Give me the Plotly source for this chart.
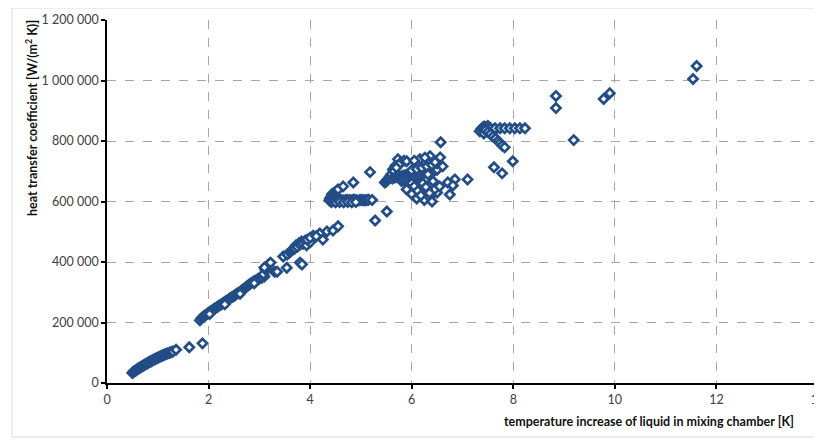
import plotly.graph_objects as go

# temperature increase [K] and heat transfer coefficient [W/(m2 K)]
low_x = [0.50, 0.51, 0.52, 0.54, 0.55, 0.57, 0.58, 0.60, 0.61, 0.63, 0.65, 0.66, 0.68, 0.70, 0.72,
         0.73, 0.75, 0.77, 0.79, 0.80, 0.82, 0.84, 0.86, 0.88, 0.90, 0.92, 0.94, 0.96, 0.98,
         1.00, 1.02, 1.04, 1.06, 1.08, 1.10, 1.12, 1.14, 1.16, 1.18, 1.20, 1.23, 1.25, 1.28,
         1.30, 1.36, 1.62, 1.88]
low_y = [33000, 35000, 37000, 39000, 40000, 42000, 43000, 46000, 47000, 49000, 51000, 52000, 54000, 56000, 58000,
         59000, 61000, 63000, 65000, 66000, 68000, 70000, 71000, 73000, 75000, 77000, 78000, 80000, 82000,
         84000, 85000, 87000, 88000, 90000, 91000, 93000, 94000, 96000, 97000, 98000, 100000, 101000, 103000,
         104000, 110000, 118000, 131000]

mid_x = [1.83, 1.86, 1.88, 1.90, 1.93, 1.95, 1.98, 2.00, 2.03, 2.05, 2.08, 2.10, 2.13, 2.16, 2.19,
         2.22, 2.25, 2.28, 2.31, 2.34, 2.37, 2.40, 2.43, 2.46, 2.49, 2.52, 2.55, 2.58, 2.61,
         2.64, 2.67, 2.70, 2.73, 2.76, 2.79, 2.82, 2.85, 2.88, 2.91, 2.94, 2.97, 3.00, 3.05, 3.10,
         2.02, 2.32, 2.62, 2.90,
         3.08, 3.12, 3.15, 3.18, 3.22, 3.10, 3.30, 3.35, 3.47, 3.54, 3.55, 3.60, 3.62, 3.65, 3.68, 3.70,
         3.72, 3.75, 3.78, 3.80, 3.83, 3.86, 3.90, 3.93, 3.97, 4.00, 3.80, 3.84,
         4.06, 4.19, 4.25, 4.33, 4.45, 4.55, 3.94, 4.00, 4.12]
mid_y = [207000, 214000, 217000, 220000, 223000, 226000, 229000, 232000, 235000, 238000, 241000, 244000, 247000, 250000, 254000,
         257000, 260000, 263000, 267000, 270000, 274000, 277000, 281000, 284000, 287000, 290000, 294000, 297000, 300000,
         304000, 308000, 312000, 316000, 320000, 324000, 328000, 331000, 335000, 337000, 340000, 343000, 345000, 348000, 352000,
         228000, 260000, 295000, 330000,
         360000, 375000, 385000, 392000, 398000, 382000, 368000, 368000, 418000, 381000, 425000, 432000, 436000, 440000, 443000, 445000,
         455000, 450000, 462000, 458000, 468000, 460000, 470000, 455000, 474000, 465000, 398000, 392000,
         487000, 494000, 474000, 501000, 504000, 518000, 474000, 480000, 485000]

chev_x = [4.38, 4.42, 4.45, 4.49, 4.52, 4.56, 4.59, 4.63, 4.66, 4.70, 4.73, 4.77, 4.80, 4.84, 4.87,
          4.91, 4.94, 4.98, 5.01, 5.05, 5.08, 5.12, 5.15, 5.22,
          4.42, 4.50, 4.58, 4.66, 4.74, 4.82, 4.90,
          4.39, 4.40, 4.42, 4.43, 4.46, 4.49, 4.52, 4.55, 4.65, 4.85, 5.18, 5.28, 5.51]
chev_y = [603000, 604000, 605000, 603000, 604000, 605000, 606000, 604000, 603000, 605000, 605000, 604000, 604000, 605000, 606000,
          604000, 603000, 605000, 605000, 604000, 604000, 605000, 606000, 605000,
          598000, 597000, 598000, 597000, 598000, 597000, 598000,
          608000, 612000, 617000, 624000, 627000, 630000, 635000, 640000, 650000, 663000, 697000, 537000, 567000]

clus_x = [5.47, 5.50, 5.52, 5.55, 5.57, 5.60, 5.63, 5.65, 5.68, 5.70, 5.73, 5.78, 5.85, 5.90,
          5.62, 5.67, 5.72, 5.77, 5.82, 5.87, 5.92, 5.97, 6.02, 6.07, 6.12, 6.17, 6.22, 6.27,
          6.32, 6.37, 6.42, 6.47, 6.52, 6.57,
          5.80, 5.85, 5.90, 5.95, 6.00, 6.05, 6.10, 6.15, 6.20, 6.25, 6.30, 6.35, 6.40, 6.45, 6.50,
          6.00, 6.10, 6.20, 6.30, 6.40, 6.50,
          6.16, 6.36, 6.56, 6.46, 6.61, 6.26, 6.05, 6.57,
          5.96, 6.16, 6.30, 6.42, 6.32, 6.20, 6.50, 6.71, 6.85, 6.81, 6.75, 7.10,
          6.06, 5.90, 6.00, 6.10, 6.25, 6.35, 6.45, 6.55, 6.40, 6.30, 6.00, 6.10,
          6.05, 6.12, 6.18, 6.22, 6.28, 6.35]
clus_y = [663000, 667000, 672000, 676000, 683000, 690000, 706000, 700000, 718000, 712000, 740000, 728000, 735000, 733000,
          676000, 679000, 681000, 683000, 685000, 687000, 689000, 691000, 693000, 695000, 697000, 699000, 701000, 703000,
          705000, 708000, 711000, 714000, 717000, 720000,
          668000, 670000, 673000, 677000, 680000, 683000, 686000, 689000, 692000, 694000, 696000, 698000, 700000, 702000, 705000,
          703000, 707000, 711000, 716000, 721000, 726000,
          740000, 750000, 746000, 730000, 716000, 745000, 735000, 796000,
          647000, 657000, 673000, 667000, 690000, 630000, 630000, 663000, 673000, 653000, 623000, 673000,
          617000, 640000, 625000, 610000, 605000, 615000, 640000, 650000, 600000, 640000, 660000, 645000,
          650000, 635000, 620000, 660000, 648000, 628000]

high_x = [7.34, 7.37, 7.40, 7.43, 7.45, 7.48, 7.50, 7.53, 7.55, 7.42, 7.48, 7.60,
          7.64, 7.74, 7.83, 7.93, 8.03, 8.13, 8.23,
          7.45, 7.50, 7.55, 7.60, 7.65, 7.70, 7.74, 7.78, 7.83, 7.99, 7.62, 7.78,
          8.84, 8.84, 9.19, 9.78, 9.90, 11.54, 11.61]
high_y = [832000, 840000, 845000, 848000, 838000, 846000, 850000, 844000, 842000, 825000, 835000, 830000,
          842000, 842000, 842000, 842000, 842000, 842000, 842000,
          836000, 830000, 823000, 815000, 808000, 800000, 793000, 785000, 779000, 733000, 713000, 693000,
          949000, 909000, 803000, 939000, 958000, 1005000, 1048000]

x_ticks = [0, 2, 4, 6, 8, 10, 12, 14]
y_ticks = [0, 200000, 400000, 600000, 800000, 1000000, 1200000]

temp_rise = low_x + mid_x + chev_x + clus_x + high_x
htc = low_y + mid_y + chev_y + clus_y + high_y

FONT = "Lato"
# page body adds an 8 px offset; figure is sized so the plot lands where the reference has it
W, H = 814, 432
L, T = 99, 12
PW, PH = 711, 363
fig = go.Figure()
fig.add_trace(go.Scatter(
    x=temp_rise, y=htc, mode="markers",
    marker=dict(symbol="diamond", size=7, color="white",
                line=dict(color="#234D86", width=2.7)),
    showlegend=False, hoverinfo="x+y"))

axis_common = dict(showline=True, linecolor="black", linewidth=1.5,
                   ticks="outside", ticklen=4, tickcolor="black", tickwidth=1.5,
                   showgrid=True, gridcolor="#A6A6A6", griddash="dash", gridwidth=1,
                   zeroline=False, automargin=False, ticklabeloverflow="allow",
                   tickfont=dict(family=FONT, size=12.5, color="#404040"))

fig.update_layout(
    width=W, height=H,
    margin=dict(l=L, r=W - L - PW, t=T, b=H - T - PH, autoexpand=False),
    paper_bgcolor="white", plot_bgcolor="white",
    separators=". ",
    font=dict(family=FONT, size=11, color="#222222"),
    xaxis=dict(range=[0, 14], tickvals=x_ticks, **axis_common),
    yaxis=dict(range=[0, 1200000], tickvals=y_ticks, tickformat=",d", **axis_common),
    annotations=[
        dict(text="<b>heat transfer coefficient [W/(m<sup>2</sup> K)]</b>", textangle=-90,
             xref="paper", yref="paper", x=(32 - 107) / PW, y=(383 - 118) / PH,
             xanchor="center", yanchor="middle", showarrow=False,
             font=dict(family=FONT, size=12.5, color="#111111")),
        dict(text="<b>temperature increase of liquid in mixing chamber [K]</b>",
             xref="paper", yref="paper", x=(796 - 107) / PW, y=(383 - 421) / PH,
             xanchor="right", yanchor="middle", showarrow=False,
             font=dict(family=FONT, size=12.5, color="#111111")),
    ],
    shapes=[dict(type="rect", xref="paper", yref="paper",
                 x0=(12 - 107) / PW, x1=(830 - 107) / PW,
                 y0=(383 - 437) / PH, y1=(383 - 8) / PH,
                 line=dict(color="#D9D9D9", width=1), layer="below")],
)

fig.write_html("out.html")
